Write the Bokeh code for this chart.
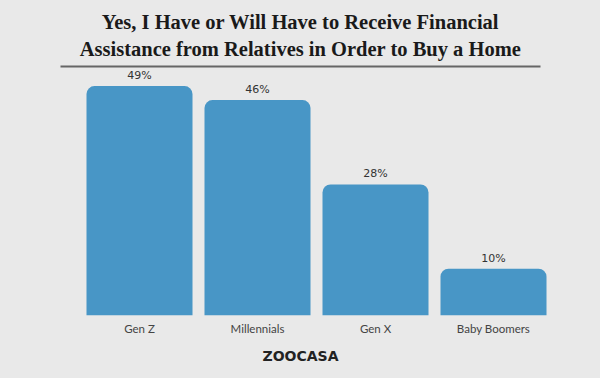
from bokeh.plotting import figure
from bokeh.models import Range1d, FixedTicker, ColumnDataSource
from bokeh.core.properties import value
from bokeh.embed import file_html
from bokeh.resources import INLINE

categories = ["Gen Z", "Millennials", "Gen X", "Baby Boomers"]
values = [49, 46, 28, 10]
labels = ["49%", "46%", "28%", "10%"]
title_lines = ["Yes, I Have or Will Have to Receive Financial",
               "Assistance from Relatives in Order to Buy a Home"]

BG = "#e9e9e9"
BAR = "#4896c6"

xs = [i + 0.5 for i in range(len(categories))]
src = ColumnDataSource(dict(x=xs, top=values, label=labels))

p = figure(width=600, height=378, output_backend="svg", toolbar_location=None,
           x_range=Range1d(-80 / 118, 520 / 118), y_range=Range1d(0, 315 / 4.683),
           min_border_left=0, min_border_right=0, min_border_top=0, min_border_bottom=63)
p.background_fill_color = None
p.border_fill_color = None
p.styles = {"background-color": BG}
p.outline_line_color = None
p.grid.visible = False
p.yaxis.visible = False

p.vbar(x="x", top="top", width=106 / 118, bottom=0, source=src, fill_color=BAR,
       line_color=None, border_radius=(8, 8, 0, 0))
p.text(x="x", y="top", text="label", source=src, y_offset=-4,
       text_align="center", text_baseline="bottom", text_font=value("DejaVu Sans"),
       text_font_size="11px", text_color="#333333")

# title
def ypx(py):
    return (315 - py) / 4.683

def xpx(px):
    return (px - 80) / 118

p.text(x=[xpx(300)] * 2, y=[ypx(21), ypx(48)], text=title_lines,
       text_align="center", text_baseline="middle", text_font=value("Liberation Serif"),
       text_font_style="bold", text_font_size="20.5px", text_color="#1a1a1a")
p.segment(x0=[xpx(60)], x1=[xpx(540)], y0=[ypx(66)], y1=[ypx(66)],
          line_color="#666666", line_width=2)

ax = p.xaxis[0]
ax.ticker = FixedTicker(ticks=xs)
ax.major_label_overrides = {x: c for x, c in zip(xs, categories)}
ax.axis_line_color = None
ax.major_tick_line_color = None
ax.minor_tick_line_color = None
ax.major_tick_in = 0
ax.major_tick_out = 0
ax.major_label_standoff = 6
ax.major_label_text_font = "Lato"
ax.major_label_text_font_size = "11.5px"
ax.major_label_text_color = "#444444"
ax.axis_label = "ZOOCASA"
ax.axis_label_text_font = "DejaVu Sans"
ax.axis_label_text_font_style = "bold"
ax.axis_label_text_font_size = "14px"
ax.axis_label_text_color = "#222222"
ax.axis_label_standoff = 10

open("out.html", "w").write(file_html(p, INLINE))
